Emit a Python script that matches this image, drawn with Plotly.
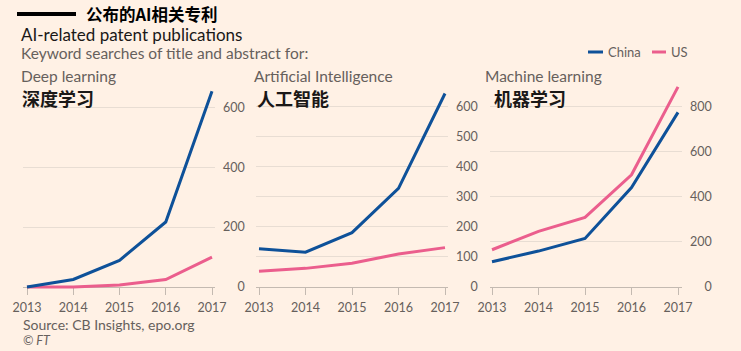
import plotly.graph_objects as go

W, H = 741, 351
def X(px): return px / W
def Y(py): return 1 - py / H

years = [2013, 2014, 2015, 2016, 2017]

dl_china = [0, 25, 89, 217, 654]
dl_us = [0, 0, 7, 25, 100]
ai_china = [127, 116, 181, 328, 644]
ai_us = [52, 62, 79, 110, 131]
ml_china = [112, 159, 215, 440, 773]
ml_us = [165, 246, 308, 497, 886]

dl_ticks = [0, 200, 400, 600]
ai_ticks = [0, 100, 200, 300, 400, 500, 600]
ml_ticks = [0, 200, 400, 600, 800]

panel_en = ["Deep learning", "Artificial Intelligence", "Machine learning"]
panel_zh = ["深度学习", "人工智能", "机器学习"]

title_zh = "公布的AI相关专利"
title_en = "AI-related patent publications"
subtitle = "Keyword searches of title and abstract for:"
source = "Source: CB Insights, epo.org"
credit = "© FT"

BLUE = "#0e5199"
PINK = "#eb5e8d"
BG = "#fff1e5"
GREY = "#66605c"
GRID = "#e8ddd3"
AXIS = "#c4bab1"
FONT = "Lato, 'Noto Sans', sans-serif"
CJK = "'Noto Sans CJK SC', sans-serif"

fig = go.Figure()

panels = [
    (dl_china, dl_us, dl_ticks, (23, 215), 0.2995, (27, 212)),
    (ai_china, ai_us, ai_ticks, (256, 448), 0.3005, (259, 445)),
    (ml_china, ml_us, ml_ticks, (490, 682), 0.2259, (492, 678)),
]

layout_axes = {}
for i, (china, us, ticks, (x0, x1), k, (t0, t1)) in enumerate(panels, start=1):
    xa = "x" if i == 1 else f"x{i}"
    ya = "y" if i == 1 else f"y{i}"
    fig.add_trace(go.Scatter(x=years, y=us, mode="lines", line=dict(color=PINK, width=3),
                             xaxis=xa, yaxis=ya, showlegend=False, name="US"))
    fig.add_trace(go.Scatter(x=years, y=china, mode="lines", line=dict(color=BLUE, width=3),
                             xaxis=xa, yaxis=ya, showlegend=False, name="China"))
    per = (t1 - t0) / 4
    xr = [2013 - (t0 - x0) / per, 2017 + (x1 - t1) / per]
    yr = [-2 / k, (287 - 85) / k]
    maxlen = max(len(str(t)) for t in ticks)
    ttext = ["\u2007" * (maxlen - len(str(t))) + str(t) for t in ticks]
    layout_axes["xaxis" if i == 1 else f"xaxis{i}"] = dict(
        domain=[X(x0), X(x1)], range=xr, anchor="free", position=Y(287),
        showline=True, linecolor=AXIS, linewidth=1, ticks="outside", ticklen=7,
        tickcolor=AXIS, tickwidth=1, tickvals=years, ticktext=[str(y) for y in years],
        tickfont=dict(size=12.5, color=GREY, family=FONT), showgrid=False,
        zeroline=False, layer="below traces", ticklabelstandoff=2, automargin=False,
    )
    layout_axes["yaxis" if i == 1 else f"yaxis{i}"] = dict(
        domain=[Y(289), Y(85)], range=yr, anchor=xa, side="right",
        showgrid=True, gridcolor=GRID, gridwidth=1, zeroline=False,
        tickvals=ticks, ticktext=ttext, ticks="", ticklabelstandoff=7,
        tickfont=dict(size=12.5, color=GREY, family=FONT), showline=False,
        automargin=False,
    )

annotations = []
def txt(x, y, text, size, color, family=FONT, **kw):
    annotations.append(dict(x=X(x), y=Y(y), xref="paper", yref="paper", text=text,
                            showarrow=False, xanchor="left", yanchor="middle",
                            borderpad=0, font=dict(size=size, color=color, family=family), **kw))

txt(85, 14, "<b>" + title_zh + "</b>", 16.5, "#000000", CJK)
txt(20, 34.5, title_en, 17, "#1a1817")
txt(20, 53, subtitle, 15.5, GREY)
for x, en in zip([20, 253, 484], panel_en):
    txt(x, 76, en, 15.5, GREY)
for x, zh in zip([21, 256, 493], panel_zh):
    txt(x, 98, "<b>" + zh + "</b>", 18, "#1a1817", CJK)
txt(22, 324, source, 14, GREY)
txt(22, 340, "<i>" + credit + "</i>", 12.5, GREY)
txt(607, 52, "China", 13, GREY)
txt(670, 52, "US", 13, GREY)

shapes = [
    dict(type="line", xref="paper", yref="paper", x0=X(17), x1=X(76), y0=Y(14), y1=Y(14),
         line=dict(color="#000000", width=4)),
    dict(type="line", xref="paper", yref="paper", x0=X(588), x1=X(603), y0=Y(52), y1=Y(52),
         line=dict(color=BLUE, width=3)),
    dict(type="line", xref="paper", yref="paper", x0=X(652), x1=X(666), y0=Y(52), y1=Y(52),
         line=dict(color=PINK, width=3)),
]

fig.update_layout(
    template="none",
    width=W, height=H, margin=dict(l=0, r=0, t=0, b=0, pad=0),
    paper_bgcolor=BG, plot_bgcolor=BG, showlegend=False,
    annotations=annotations, shapes=shapes, font=dict(family=FONT),
    **layout_axes,
)

fig.write_html("out.html", config={"displayModeBar": False})
